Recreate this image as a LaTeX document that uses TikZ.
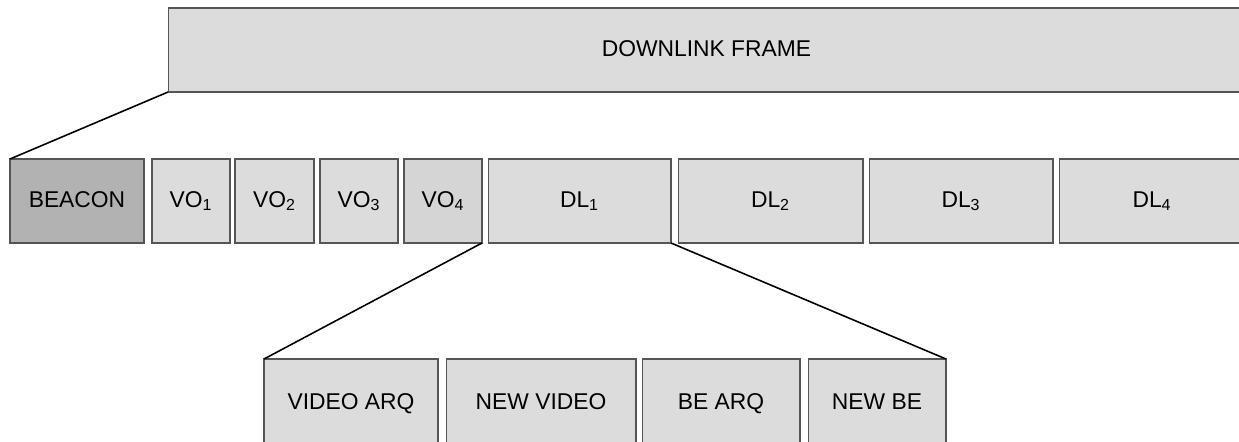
\documentclass[tikz,border=0pt]{standalone}
\usepackage{fontspec}
\setmainfont{Liberation Sans}
\usepackage{tikz}
\usetikzlibrary{positioning}
\definecolor{slotgray}{HTML}{DCDCDC}
\definecolor{beacongray}{HTML}{B2B2B2}
\definecolor{edgegray}{HTML}{555555}

\begin{document}
\begin{tikzpicture}[x=0.02cm, y=-0.02cm,
  slot/.style={draw=edgegray, line width=0.6pt, fill=slotgray, inner sep=0pt, outer sep=0pt,
    minimum height=1.68cm, text height=1.6ex, text depth=0.3ex,
    font=\fontsize{13}{15}\selectfont},
  sub/.style={slot, minimum height=1.76cm},
  link/.style={black, line width=0.9pt}
]
  \useasboundingbox (0,0) rectangle (1239,442);

  % Frame
  \node[slot, minimum width=21.54cm] (frame) at (706.5,50) {DOWNLINK FRAME};

  % Slots of the frame
  \node[slot, fill=beacongray, minimum width=2.68cm] (beacon) at (77,201) {BEACON};
  \node[slot, minimum width=1.56cm] (vo1) at (191,201) {VO\textsubscript{1}};
  \node[slot, minimum width=1.58cm] (vo2) at (274.5,201) {VO\textsubscript{2}};
  \node[slot, minimum width=1.56cm] (vo3) at (359,201) {VO\textsubscript{3}};
  \node[slot, fill=slotgray!97!black, minimum width=1.56cm] (vo4) at (443,201) {VO\textsubscript{4}};
  \node[slot, minimum width=3.66cm] (dl1) at (579.5,201) {DL\textsubscript{1}};
  \node[slot, minimum width=3.70cm] (dl2) at (770.5,201) {DL\textsubscript{2}};
  \node[slot, minimum width=3.68cm] (dl3) at (961,201) {DL\textsubscript{3}};
  \node[slot, minimum width=3.72cm] (dl4) at (1152,201) {DL\textsubscript{4}};

  % Parts of DL1
  \node[sub, minimum width=3.48cm] (varq) at (351,403) {VIDEO ARQ};
  \node[sub, minimum width=3.80cm] (nvid) at (541,403) {NEW VIDEO};
  \node[sub, minimum width=3.16cm] (bearq) at (721,403) {BE ARQ};
  \node[sub, minimum width=2.76cm] (newbe) at (877,403) {NEW BE};

  \draw[link] (frame.south west) -- (beacon.north west);
  \draw[link] (vo4.south east) -- (varq.north west);
  \draw[link] (dl1.south east) -- (newbe.north east);
\end{tikzpicture}
\end{document}
